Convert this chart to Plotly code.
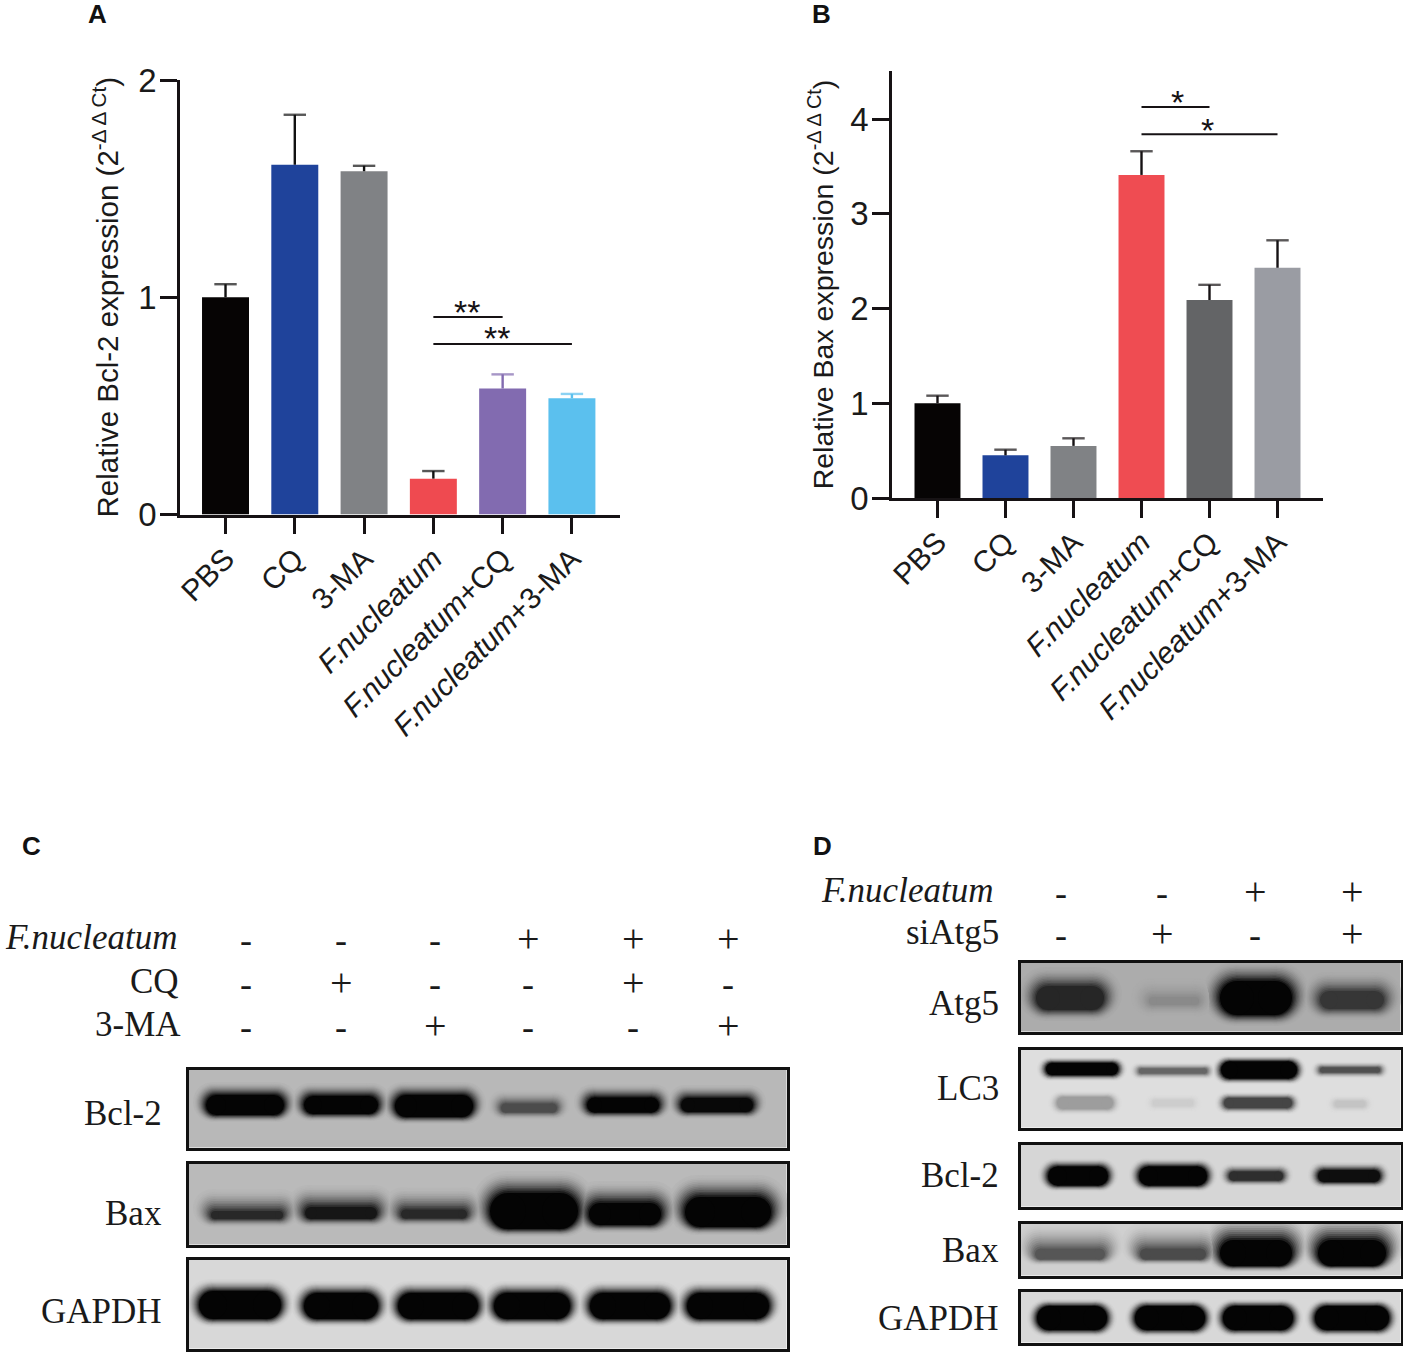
import plotly.graph_objects as go

W, H = 1403, 1353

# ---------- data: bar panels ----------
categories = ["PBS", "CQ", "3-MA", "<i>F.nucleatum</i>", "<i>F.nucleatum</i>+CQ", "<i>F.nucleatum</i>+3-MA"]
bcl2_values = [1.0, 1.61, 1.58, 0.165, 0.58, 0.535]
bcl2_errors = [0.06, 0.23, 0.025, 0.035, 0.065, 0.02]
bax_values = [1.0, 0.45, 0.55, 3.41, 2.09, 2.43]
bax_errors = [0.08, 0.06, 0.08, 0.25, 0.16, 0.29]
bcl2_colors = ["#060404", "#1f439b", "#808285", "#ef4a50", "#826bb0", "#5bc0ee"]
bcl2_err_colors = ["#111111", "#111111", "#111111", "#111111", "#826bb0", "#5bc0ee"]
bax_colors = ["#060404", "#1f439b", "#808285", "#ef4c52", "#636466", "#9a9ca3"]
bcl2_sig = [(3, 4, 0.909, "**"), (3, 5, 0.785, "**")]
bax_sig = [(3, 4, 4.127, "*"), (3, 5, 3.84, "*")]

# ---------- data: blot bands (gel units) ----------
c_bcl2_x = [58, 154, 247, 342, 436, 530]
c_bcl2_half = [39, 37, 39, 28, 36, 36]
c_bcl2_y = [37, 37, 38, 40, 37, 37]
c_bcl2_thick = [20, 18, 22, 9, 15, 14]
c_bcl2_int = [1, 1, 1, .6, 1, .98]

c_bax_x = [60, 154, 247, 347, 438, 541]
c_bax_half = [36, 36, 33, 44, 36, 43]
c_bax_y = [53, 51, 52, 49, 52, 50]
c_bax_thick = [8, 12, 9, 36, 22, 30]
c_bax_int = [.8, .9, .8, 1, 1, 1]

c_gapdh_x = [53, 154, 251, 345, 443, 541]
c_gapdh_half = [41, 37, 40, 38, 40, 41]
c_gapdh_y = [47, 48, 48, 48, 48, 48]
c_gapdh_thick = [28, 26, 26, 26, 26, 26]
c_gapdh_int = [1, 1, 1, 1, 1, 1]

d_atg5_x = [51, 155, 237, 333]
d_atg5_half = [34, 25, 36, 32]
d_atg5_y = [37, 40, 37, 39]
d_atg5_thick = [24, 8, 34, 18]
d_atg5_int = [.8, .2, 1, .7]

d_lc3_x = [63, 154, 240, 331, 66, 154, 239, 331]
d_lc3_half = [36, 34, 38, 30, 28, 20, 34, 15]
d_lc3_y = [21, 23, 22, 22, 55, 55, 55, 56]
d_lc3_thick = [12, 5, 17, 5, 12, 6, 10, 6]
d_lc3_int = [1, .55, 1, .65, .3, .08, .7, .12]

d_bcl2_x = [59, 154, 237, 330]
d_bcl2_half = [30, 34, 27, 31]
d_bcl2_y = [33, 33, 33, 33]
d_bcl2_thick = [19, 19, 9, 12]
d_bcl2_int = [1, 1, .8, .95]

d_bax_x = [51, 154, 237, 333]
d_bax_half = [35, 33, 36, 34]
d_bax_y = [32, 32, 31, 31]
d_bax_thick = [11, 11, 26, 26]
d_bax_int = [.6, .65, 1, 1]

d_gapdh_x = [53, 151, 239, 333]
d_gapdh_half = [35, 35, 35, 37]
d_gapdh_y = [28, 28, 28, 28]
d_gapdh_thick = [24, 24, 24, 24]
d_gapdh_int = [1, 1, 1, 1]

# ---------- data: labels ----------
c_treat_cols = [246, 341, 435, 528, 633, 728]
c_treat_rows = [("<i>F.nucleatum</i>", 937, 179, "---+++"), ("CQ", 981, 181, "-+--+-"), ("3-MA", 1024, 183, "--+--+")]
d_treat_cols = [1061, 1162, 1255, 1352]
d_treat_rows = [("<i>F.nucleatum</i>", 890, 995, "--++"), ("siAtg5", 932, 1001, "-+-+")]
c_blot_labels = [("Bcl-2", 1113, 164), ("Bax", 1213, 164), ("GAPDH", 1311, 164)]
d_blot_labels = [("Atg5", 1003, 1001), ("LC3", 1088, 1001), ("Bcl-2", 1175, 1001), ("Bax", 1250, 1001), ("GAPDH", 1318, 1001)]
panel_letters = [("A", 97, 14), ("B", 821, 14), ("C", 31, 846), ("D", 822, 846)]

SANS = "Liberation Sans"
SERIF = "Liberation Serif"
INK = "#161214"


def dom_x(a, b):
    return [a / W, b / W]


def dom_y(top, bottom):
    return [1 - bottom / H, 1 - top / H]


fig = go.Figure()
layout = {}
annotations = []


def text(s, x, y, size, family=SERIF, xanchor="center", color="#1a1a1a", bold=False):
    annotations.append(dict(
        text=f"<b>{s}</b>" if bold else s, x=x / W, y=1 - y / H, xref="paper", yref="paper",
        xanchor=xanchor, yanchor="middle", showarrow=False,
        font=dict(family=family, size=size, color=color)))


def bar_panel(n, values, errors, colors, err_colors, sig, ytitle, box, xrange, yrange, yticks, bar_w, star_px, standoff, title_size):
    left, right, top, bottom = box
    xa, ya = f"xaxis{n}", f"yaxis{n}"
    xr, yr = f"x{n}", f"y{n}"
    for i, cat in enumerate(categories):
        fig.add_trace(go.Bar(
            x=[cat], y=[values[i]], width=bar_w, marker=dict(color=colors[i], line=dict(width=0)),
            xaxis=xr, yaxis=yr, showlegend=False))
        # upper error whisker only: the reference shows no cap at the bar top
        fig.add_trace(go.Scatter(
            x=[cat, cat], y=[values[i], values[i] + errors[i]], mode="lines+markers",
            line=dict(color=err_colors[i], width=2.4),
            marker=dict(symbol="line-ew", size=[0, 16], color=err_colors[i],
                        line=dict(color=err_colors[i], width=2.4)),
            xaxis=xr, yaxis=yr, showlegend=False))
    for (a, b, lvl, mark), (sx, sy) in zip(sig, star_px):
        fig.add_trace(go.Scatter(
            x=[categories[a], categories[b]], y=[lvl, lvl], mode="lines",
            line=dict(color=INK, width=2), xaxis=xr, yaxis=yr, showlegend=False))
        text(mark, sx, sy, 34, family=SANS, color=INK)
    layout[xa] = dict(
        domain=dom_x(left, right), anchor=yr, type="category", categoryorder="array",
        categoryarray=categories, range=xrange, showline=True, linecolor=INK, linewidth=2.6,
        ticks="outside", ticklen=17, tickwidth=2.6, tickcolor=INK, tickangle=-45, ticklabelstandoff=-5,
        tickfont=dict(family=SANS, size=30, color="#1a1a1a"), showgrid=False, zeroline=False)
    layout[ya] = dict(
        domain=dom_y(top, bottom), anchor=xr, range=yrange, tickvals=yticks, showline=True,
        linecolor=INK, linewidth=2.6, ticks="outside", ticklen=17, tickwidth=2.6, tickcolor=INK,
        ticklabelstandoff=-3,
        tickfont=dict(family=SANS, size=33, color="#1a1a1a"), showgrid=False, zeroline=False,
        title=dict(text=ytitle, font=dict(family=SANS, size=title_size, color="#1a1a1a"), standoff=standoff))


TS = "\u2009"
bar_panel(1, bcl2_values, bcl2_errors, bcl2_colors, bcl2_err_colors, bcl2_sig,
          f"Relative Bcl-2 expression (2<sup>-Δ{TS}Δ{TS}Ct</sup>)", (180, 620, 80, 514.5),
          [-0.657, 5.694], [0, 2], [0, 1, 2], 0.678, [(467, 312), (497, 338)], 11, 29.5)
bar_panel(2, bax_values, bax_errors, bax_colors, [INK] * 6, bax_sig,
          f"Relative Bax expression (2<sup>-Δ{TS}Δ{TS}Ct</sup>)", (892, 1323, 71, 498),
          [-0.669, 5.669], [0, 4.507], [0, 1, 2, 3, 4], 0.676, [(1177, 102), (1207, 130)], 9, 28.5)


def mix(bg, dark, t):
    v = round(bg + (dark - bg) * t)
    return f"rgb({v},{v},{v})"


LAYERS = 14
EDGE = 1.5


def blot(n, box, bg, xs, halves, ys, thicks, ints, halo=18, smear=2):
    left, right, top, bottom = box
    xr, yr = f"x{n}", f"y{n}"
    for k in range(LAYERS):
        t = k / (LAYERS - 1)
        for x, hw, y, th, i in zip(xs, halves, ys, thicks, ints):
            dark = bg + (4 - bg) * i
            lw = th + halo * (1 - t)
            reach = max(hw - th / 2 + 3 * (1 - t), 1)
            col = mix(bg, dark, t ** 1.8 * 0.98 + 0.02)
            yy = y - smear * (1 - t) * min(1, th / 12 + 0.3)
            fig.add_trace(go.Scatter(
                x=[x - reach, x + reach], y=[yy, yy], mode="lines+markers",
                line=dict(color=col, width=lw), marker=dict(color=col, size=lw, line=dict(width=0)),
                xaxis=xr, yaxis=yr, showlegend=False, hoverinfo="skip"))
    layout[f"xaxis{n}"] = dict(domain=dom_x(left + EDGE, right - EDGE), anchor=yr,
                               range=[EDGE, right - left - EDGE],
                               showline=True, mirror=True, linecolor="#111111", linewidth=3,
                               showticklabels=False, ticks="", showgrid=False, zeroline=False)
    layout[f"yaxis{n}"] = dict(domain=dom_y(top + EDGE, bottom - EDGE), anchor=xr,
                               range=[bottom - top - EDGE, EDGE],
                               showline=True, mirror=True, linecolor="#111111", linewidth=3,
                               showticklabels=False, ticks="", showgrid=False, zeroline=False)


blot(3, (187, 788, 1068, 1149), 184, c_bcl2_x, c_bcl2_half, c_bcl2_y, c_bcl2_thick, c_bcl2_int, 20, 3)
blot(4, (187, 788, 1162, 1246), 186, c_bax_x, c_bax_half, c_bax_y, c_bax_thick, c_bax_int, 30, 7)
blot(5, (187, 788, 1258, 1350), 216, c_gapdh_x, c_gapdh_half, c_gapdh_y, c_gapdh_thick, c_gapdh_int, 20, 2)
blot(6, (1019, 1402, 961, 1033), 172, d_atg5_x, d_atg5_half, d_atg5_y, d_atg5_thick, d_atg5_int, 30, 4)
blot(7, (1019, 1402, 1048, 1129), 222, d_lc3_x, d_lc3_half, d_lc3_y, d_lc3_thick, d_lc3_int, 12, 0)
blot(8, (1019, 1402, 1143, 1208), 214, d_bcl2_x, d_bcl2_half, d_bcl2_y, d_bcl2_thick, d_bcl2_int, 14, 1)
blot(9, (1019, 1402, 1222, 1277), 208, d_bax_x, d_bax_half, d_bax_y, d_bax_thick, d_bax_int, 32, 10)
blot(10, (1019, 1402, 1290, 1344), 216, d_gapdh_x, d_gapdh_half, d_gapdh_y, d_gapdh_thick, d_gapdh_int, 14, 0)

for rows, cols in ((c_treat_rows, c_treat_cols), (d_treat_rows, d_treat_cols)):
    for label, y, right, marks in rows:
        text(label, right, y, 35, xanchor="right")
        for cx, m in zip(cols, marks):
            text(m, cx, y + (3 if m == "-" else 1), 40 if m == "+" else 36)
for label, y, right in c_blot_labels + d_blot_labels:
    text(label, right, y, 35, xanchor="right")
for letter, x, y in panel_letters:
    text(letter, x, y, 26, family=SANS, color="#111111", bold=True)

fig.update_layout(width=W, height=H, margin=dict(l=0, r=0, t=0, b=0, autoexpand=False), paper_bgcolor="white",
                  plot_bgcolor="white", showlegend=False, annotations=annotations, **layout)
for n, bg in zip(range(3, 11), [184, 186, 216, 172, 222, 214, 208, 216]):
    fig.add_shape(type="rect", xref=f"x{n} domain", yref=f"y{n} domain", x0=0, x1=1, y0=0, y1=1,
                  fillcolor=f"rgb({bg},{bg},{bg})", line=dict(width=0), layer="below")

fig.write_html("out.html", config={"displayModeBar": False}, post_script="document.body.style.margin='0';")
